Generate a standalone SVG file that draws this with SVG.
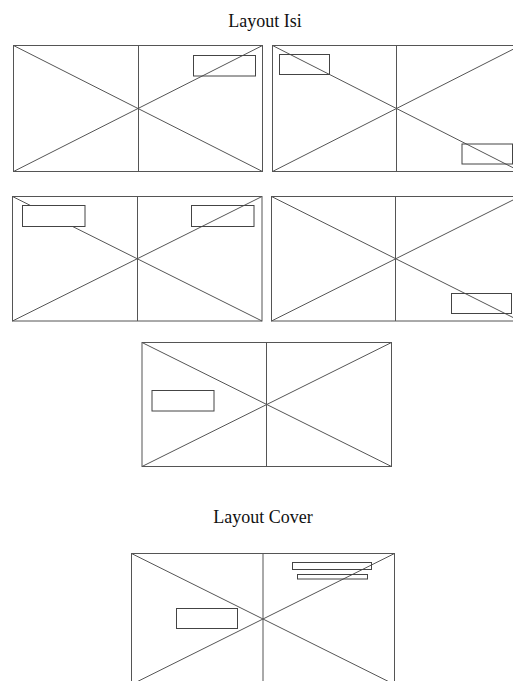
<svg xmlns="http://www.w3.org/2000/svg" width="513" height="681" viewBox="0 0 513 681">
<style>
.f{fill:none;stroke:#555;stroke-width:1}
.b{fill:none;stroke:#444;stroke-width:1}
.bw{fill:#fff;stroke:#444;stroke-width:1}
.t{font-family:"Liberation Serif","Times New Roman",serif;font-size:18px;fill:#111;text-anchor:middle}
</style>
<rect width="513" height="681" fill="#fff"/>
<text class="t" x="265" y="27">Layout Isi</text>
<g id="isi1">
<rect class="f" x="13.5" y="45.5" width="249" height="126"/>
<path class="f" d="M138.5 45.5V171.5M13.5 45.5L262.5 171.5M13.5 171.5L262.5 45.5"/>
<rect class="b" x="193.5" y="55.5" width="62" height="20.5"/>
</g>
<g id="isi2">
<rect class="f" x="272.5" y="45.5" width="248" height="126"/>
<path class="f" d="M396.5 45.5V171.5M272.5 45.5L520.5 171.5M272.5 171.5L520.5 45.5"/>
<rect class="b" x="279.5" y="54.5" width="50" height="20"/>
<rect class="b" x="462" y="144" width="50.5" height="20"/>
</g>
<g id="isi3">
<rect class="f" x="12.5" y="196.5" width="249.5" height="124.5"/>
<path class="f" d="M137.5 196.5V321M12.5 196.5L262 321M12.5 321L262 196.5"/>
<rect class="bw" x="22.5" y="205.5" width="62.5" height="21"/>
<rect class="b" x="191.5" y="205.5" width="62.5" height="21"/>
</g>
<g id="isi4">
<rect class="f" x="271.5" y="196.5" width="248.5" height="124.5"/>
<path class="f" d="M395.5 196.5V321M271.5 196.5L520 321M271.5 321L520 196.5"/>
<rect class="b" x="451.5" y="293.5" width="60" height="20"/>
</g>
<g id="isi5">
<rect class="f" x="142" y="342.5" width="249.5" height="124"/>
<path class="f" d="M266.5 342.5V466.5M142 342.5L391.5 466.5M142 466.5L391.5 342.5"/>
<rect class="b" x="152" y="390.5" width="62" height="20.5"/>
</g>
<text class="t" x="263" y="523">Layout Cover</text>
<g id="cover">
<rect class="f" x="131.5" y="553.5" width="263" height="131"/>
<path class="f" d="M263 553.5V684.5M131.5 553.5L394.5 684.5M131.5 684.5L394.5 553.5"/>
<rect class="b" x="176.5" y="608.5" width="61" height="20"/>
<rect class="b" x="292.5" y="562.5" width="79" height="7"/>
<rect class="b" x="297.5" y="574.5" width="70" height="4.5"/>
</g>
<g id="connectors"></g>
</svg>
